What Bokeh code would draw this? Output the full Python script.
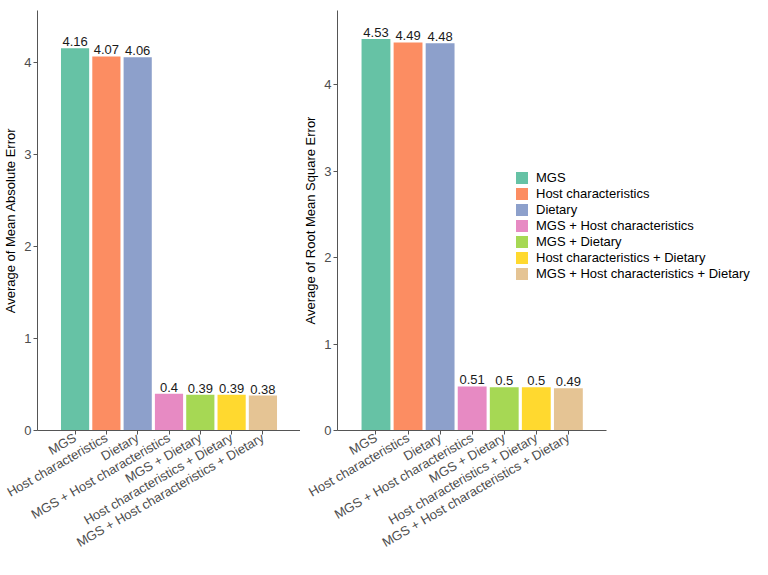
from math import pi
from bokeh.plotting import figure
from bokeh.models import ColumnDataSource, Range1d, Legend, LegendItem, FixedTicker
from bokeh.layouts import row
from bokeh.embed import file_html
from bokeh.resources import INLINE
from bokeh.core.properties import value

categories = ["MGS", "Host characteristics", "Dietary", "MGS + Host characteristics",
              "MGS + Dietary", "Host characteristics + Dietary",
              "MGS + Host characteristics + Dietary"]
mae = [4.16, 4.07, 4.06, 0.40, 0.39, 0.39, 0.38]
rmse = [4.53, 4.49, 4.48, 0.51, 0.50, 0.50, 0.49]
mae_labels = ["4.16", "4.07", "4.06", "0.4", "0.39", "0.39", "0.38"]
rmse_labels = ["4.53", "4.49", "4.48", "0.51", "0.5", "0.5", "0.49"]
y_ticks = [0, 1, 2, 3, 4]
colors = ["#66C2A5", "#FC8D62", "#8DA0CB", "#E78AC3", "#A6D854", "#FFD92F", "#E5C494"]

FONT = "Liberation Sans"
PAD = 1.2  # category units of empty space at each side of the axis
positions = list(range(len(categories)))


def make_panel(values, labels, ylabel, y_end, width, height, border_top, x_end, legend=False):
    src = ColumnDataSource(dict(x=positions, val=values, lab=labels, col=colors))
    p = figure(width=width, height=height, output_backend="svg", toolbar_location=None,
               x_range=Range1d(-PAD, x_end), y_range=Range1d(0, y_end),
               min_border_left=0, min_border_top=border_top, min_border_right=0,
               min_border_bottom=0)
    p.outline_line_color = None
    p.xgrid.visible = False
    p.ygrid.visible = False
    r = p.vbar(x="x", top="val", width=0.9, fill_color="col", line_color=None, source=src)
    p.text(x="x", y="val", text="lab", source=src, text_align="center", text_baseline="bottom",
           y_offset=-2, text_font=value(FONT), text_font_size="13px", text_color="#1a1a1a")

    for ax in (p.xaxis[0], p.yaxis[0]):
        ax.axis_line_color = "#555555"
        ax.axis_line_width = 1
        ax.major_tick_line_color = "#555555"
        ax.major_tick_out = 4
        ax.major_tick_in = 0
        ax.minor_tick_line_color = None
        ax.major_label_text_font = FONT
        ax.major_label_text_font_size = "13px"
        ax.major_label_text_color = "#4D4D4D"
        ax.major_label_standoff = 2
    p.xaxis.ticker = FixedTicker(ticks=positions)
    p.xaxis.major_label_overrides = {i: c for i, c in zip(positions, categories)}
    p.xaxis.major_label_orientation = pi / 6
    p.xaxis.bounds = (-PAD, len(categories) - 1 + PAD)
    p.yaxis.ticker = FixedTicker(ticks=y_ticks)
    p.yaxis.axis_label = ylabel
    p.yaxis.axis_label_text_font = FONT
    p.yaxis.axis_label_text_font_style = "normal"
    p.yaxis.axis_label_text_font_size = "13px"
    p.yaxis.axis_label_text_color = "#000000"
    p.yaxis.axis_label_standoff = 3

    if legend:
        items = [LegendItem(label=c, renderers=[r], index=i) for i, c in enumerate(categories)]
        lg = Legend(items=items, location=(177, 149), glyph_width=15, glyph_height=15,
                    label_height=15, spacing=1, label_standoff=7, padding=0, margin=0,
                    label_text_font=FONT, label_text_font_size="13px",
                    label_text_color="#000000", border_line_alpha=0,
                    background_fill_alpha=0)
        p.add_layout(lg)
    return p


left = make_panel(mae, mae_labels, "Average of Mean Absolute Error", 4.57, 300, 559, 0,
                  len(categories) - 1 + PAD)
right = make_panel(rmse, rmse_labels, "Average of Root Mean Square Error", 4.86, 452, 559, 10,
                   -PAD + 416 * (len(categories) - 1 + 2 * PAD) / 270, legend=True)

layout = row(left, right, spacing=0)
open("out.html", "w").write(file_html(layout, INLINE))
